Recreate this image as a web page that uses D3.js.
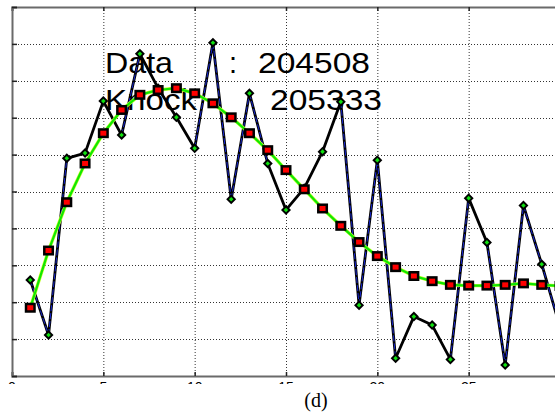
<!DOCTYPE html>
<html>
<head>
<meta charset="utf-8">
<script src="https://cdn.jsdelivr.net/npm/d3@7"></script>
<style>
  html, body { margin: 0; padding: 0; background: #fff; }
  svg { display: block; }
</style>
</head>
<body>
<div id="chart"></div>
<script>
// ---- data ----
const xValues = d3.range(1, 31);
const dataSeries = [2.60, 1.11, 5.90, 6.04, 7.45, 6.53, 8.73, 7.80, 7.01, 6.17,
                    9.03, 4.79, 7.66, 5.76, 4.50, 5.09, 6.08, 7.43, 1.92, 5.85,
                    0.48, 1.61, 1.38, 0.45, 4.82, 3.62, 0.30, 4.62, 3.03, 1.33];
const knockSeries = [1.85, 3.40, 4.71, 5.76, 6.58, 7.21, 7.62, 7.75, 7.80, 7.66,
                     7.39, 7.01, 6.58, 6.12, 5.58, 5.06, 4.54, 4.07, 3.63, 3.25,
                     2.95, 2.71, 2.57, 2.47, 2.45, 2.45, 2.47, 2.51, 2.47, 2.44];
const xTicks = [0, 5, 10, 15, 20, 25, 30];
const xTickLabels = ["0", "5", "10", "15", "20", "25"];
const yTicks = d3.range(0, 11);
const annotationLabels = ["Data", "Knock"];
const annotationValues = ["204508", "205333"];
const caption = "(d)";

// ---- layout ----
const W = 555, H = 417;
const svg = d3.select("#chart").append("svg").attr("width", W).attr("height", H);

const x = d3.scaleLinear().domain([0, 30]).range([12, 560]);
const y = d3.scaleLinear().domain([0, 10]).range([376, 7]);

svg.append("clipPath").attr("id", "plotclip")
  .append("rect").attr("x", 12).attr("y", 7).attr("width", 548).attr("height", 369);
svg.append("clipPath").attr("id", "tickclip")
  .append("rect").attr("x", 0).attr("y", 381.5).attr("width", W).attr("height", 2.5);

// grid
const grid = svg.append("g");
grid.selectAll("line.v").data(xTicks.filter(d => d > 0 && d < 30)).join("line")
  .attr("x1", d => x(d) + 0.5).attr("x2", d => x(d) + 0.5)
  .attr("y1", y(10)).attr("y2", y(0))
  .attr("stroke", "#333").attr("stroke-width", 1).attr("stroke-dasharray", "1,2");
grid.selectAll("line.h").data(yTicks.filter(d => d > 0 && d < 10)).join("line")
  .attr("x1", x(0)).attr("x2", x(30))
  .attr("y1", d => Math.round(y(d)) + 0.5).attr("y2", d => Math.round(y(d)) + 0.5)
  .attr("stroke", "#333").attr("stroke-width", 1).attr("stroke-dasharray", "1,2");

// axes
const xAxisB = d3.axisBottom(x).tickValues(xTicks).tickSize(-4).tickFormat("");
const gxb = svg.append("g").attr("transform", `translate(0,${y(0)})`).call(xAxisB);
gxb.select(".domain").attr("stroke", "#6a6a6a").attr("stroke-width", 2);
gxb.selectAll(".tick line").attr("stroke", "#222").attr("stroke-width", 1.5);

// clipped tick labels (only their tops show, as in the reference)
svg.append("g").attr("clip-path", "url(#tickclip)")
  .selectAll("text").data(xTickLabels).join("text")
  .attr("x", (d, i) => x(xTicks[i])).attr("y", 392)
  .attr("text-anchor", "middle")
  .attr("font-family", "Liberation Sans, Arial, sans-serif").attr("font-size", 14)
  .text(d => d);

const xAxisT = d3.axisTop(x).tickValues(xTicks).tickSize(-4).tickFormat("");
const gxt = svg.append("g").attr("transform", `translate(0,${y(10)})`).call(xAxisT);
gxt.select(".domain").attr("stroke", "#6a6a6a").attr("stroke-width", 2);
gxt.selectAll(".tick line").attr("stroke", "#222").attr("stroke-width", 1.5);

const yAxisL = d3.axisLeft(y).tickValues(yTicks).tickSize(-5).tickFormat("");
const gyl = svg.append("g").attr("transform", `translate(${x(0)},0)`).call(yAxisL);
gyl.select(".domain").attr("stroke", "#6a6a6a").attr("stroke-width", 2);
gyl.selectAll(".tick line").attr("stroke", "#222").attr("stroke-width", 1.5);

// annotation text (drawn under the lines)
const ann = svg.append("g").attr("font-family", "Liberation Sans, Arial, sans-serif")
  .attr("font-size", 29).attr("fill", "#000");
ann.append("text").attr("x", 105).attr("y", 73).attr("textLength", 68)
  .attr("lengthAdjust", "spacingAndGlyphs").text(annotationLabels[0]);
ann.append("text").attr("x", 229).attr("y", 73).text(":");
ann.append("text").attr("x", 258).attr("y", 73).attr("textLength", 112)
  .attr("lengthAdjust", "spacingAndGlyphs").text(annotationValues[0]);
ann.append("text").attr("x", 105).attr("y", 110).attr("textLength", 92)
  .attr("lengthAdjust", "spacingAndGlyphs").text(annotationLabels[1]);
ann.append("text").attr("x", 270).attr("y", 110).attr("textLength", 112)
  .attr("lengthAdjust", "spacingAndGlyphs").text(annotationValues[1]);

// series
const plot = svg.append("g").attr("clip-path", "url(#plotclip)");
const dataPts = xValues.map((d, i) => [d, dataSeries[i]]);
const knockPts = xValues.map((d, i) => [d, knockSeries[i]]);
const line = d3.line().x(d => x(d[0])).y(d => y(d[1]));

// data line: black with thin blue core on steep segments
plot.append("path").datum(dataPts).attr("d", line)
  .attr("fill", "none").attr("stroke", "#000").attr("stroke-width", 2.8).attr("stroke-linejoin", "round");
const segs = d3.pairs(dataPts).filter(([a, b]) => {
  const dx = Math.abs(x(b[0]) - x(a[0])), dy = Math.abs(y(b[1]) - y(a[1]));
  return dy > 3 * dx;
});
plot.selectAll("path.blue").data(segs).join("path").attr("class", "blue")
  .attr("d", line).attr("fill", "none").attr("stroke", "#1a2ae8").attr("stroke-width", 0.9)
  .attr("stroke-dasharray", "6,2");

// knock line: green
plot.append("path").datum(knockPts).attr("d", line)
  .attr("fill", "none").attr("stroke", "#c8ff30").attr("stroke-width", 3.4);
plot.append("path").datum(knockPts).attr("d", line)
  .attr("fill", "none").attr("stroke", "#10e800").attr("stroke-width", 2.2);

// diamonds
const dia = plot.selectAll("g.dia").data(dataPts).join("g")
  .attr("transform", d => `translate(${x(d[0])},${y(d[1])})`);
dia.append("path").attr("d", "M0,-5L5,0L0,5L-5,0Z").attr("fill", "#000");
dia.append("path").attr("d", "M0,-2.3L2.3,0L0,2.3L-2.3,0Z").attr("fill", "#10e010");

// squares
const sq = plot.selectAll("g.sq").data(knockPts).join("g")
  .attr("transform", d => `translate(${x(d[0])},${y(d[1])})`);
sq.append("rect").attr("x", -5.5).attr("y", -5).attr("width", 11).attr("height", 10).attr("fill", "#000");
sq.append("rect").attr("x", -3).attr("y", -2.5).attr("width", 6).attr("height", 5).attr("fill", "#ff0000");

// caption
svg.append("text").attr("x", 316).attr("y", 407).attr("text-anchor", "middle")
  .attr("font-family", "Liberation Serif, Times New Roman, serif").attr("font-size", 20)
  .text(caption);
</script>
</body>
</html>
